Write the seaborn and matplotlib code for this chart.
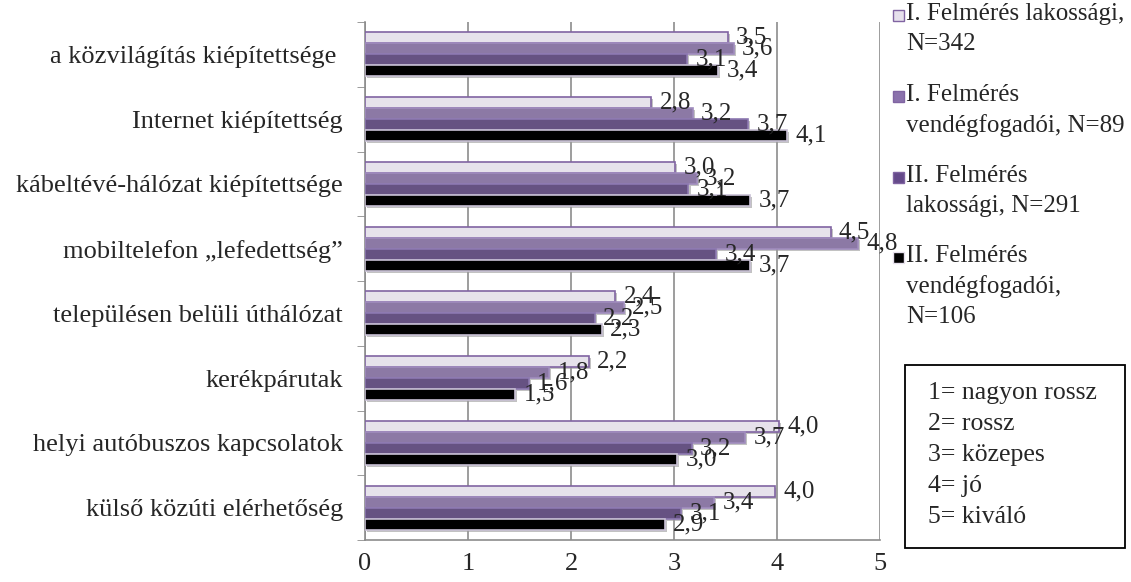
import pandas as pd
import seaborn as sns
import matplotlib.pyplot as plt
from matplotlib.patches import Rectangle
import matplotlib.patheffects as pe

# Data
szempontok = [
    "a közvilágítás kiépítettsége ",
    "Internet kiépítettség",
    "kábeltévé-hálózat kiépítettsége",
    "mobiltelefon „lefedettség”",
    "településen belüli úthálózat",
    "kerékpárutak",
    "helyi autóbuszos kapcsolatok",
    "külső közúti elérhetőség",
]
felmeres_1_lak = [3.52, 2.78, 3.01, 4.52, 2.43, 2.17, 4.02, 3.98]
felmeres_1_vend = [3.58, 3.18, 3.22, 4.79, 2.51, 1.79, 3.69, 3.39]
felmeres_2_lak = [3.13, 3.72, 3.14, 3.41, 2.23, 1.59, 3.17, 3.07]
felmeres_2_vend = [3.43, 4.10, 3.74, 3.74, 2.30, 1.46, 3.03, 2.91]

sorozatok = ["I. Felmérés lakossági, N=342", "I. Felmérés vendégfogadói, N=89",
             "II. Felmérés lakossági, N=291", "II. Felmérés vendégfogadói, N=106"]
legend_labels = ["I. Felmérés lakossági,\nN=342", "I. Felmérés\nvendégfogadói, N=89",
                 "II. Felmérés\nlakossági, N=291", "II. Felmérés\nvendégfogadói,\nN=106"]
skala = ["1= nagyon rossz", "2= rossz", "3= közepes", "4= jó", "5= kiváló"]

colors = ["#E6E0EC", "#8B72AC", "#654A8A", "#000000"]
edges = ["#8064A2", "#A08CBE", "#8C78B0", "#C8C0D4"]

# Long table for seaborn
rows = []
for name, vals in zip(sorozatok, [felmeres_1_lak, felmeres_1_vend, felmeres_2_lak, felmeres_2_vend]):
    for sz, v in zip(szempontok, vals):
        rows.append({"szempont": sz, "felmeres": name, "ertek": v})
df = pd.DataFrame(rows)

sns.set_style("white")
plt.rcParams['font.family'] = ['Liberation Serif', 'DejaVu Serif']

W, H = 1131, 582
fig = plt.figure(figsize=(W / 100, H / 100), dpi=100)
ax = fig.add_axes([365 / W, 1 - 540 / H, (880 - 365) / W, (540 - 22) / H])

sns.barplot(data=df, x="ertek", y="szempont", hue="felmeres", hue_order=sorozatok,
            order=szempontok, orient="h", palette=colors, width=0.68, gap=0,
            errorbar=None, legend=False, ax=ax, zorder=3)

shadow = [pe.SimplePatchShadow(offset=(1.5, -1.5), shadow_rgbFace="#9a9a9a", alpha=0.6), pe.Normal()]
for cont, ec in zip(ax.containers, edges):
    for bar in cont:
        bar.set_edgecolor(ec)
        bar.set_linewidth(1.2)
        bar.set_path_effects(shadow)
    labels = [f"{b.get_width():.1f}".replace(".", ",") for b in cont]
    ax.bar_label(cont, labels=labels, padding=6, fontsize=18)

ax.set_xlim(0, 5)
ax.set_ylim(len(szempontok) - 0.5, -0.5)
ax.set_xticks(range(6))
ax.set_yticks(range(len(szempontok)))
ax.set_yticks([i - 0.5 for i in range(len(szempontok) + 1)], minor=True)
ax.grid(axis="x", color="#8c8c8c", linewidth=1.2, zorder=0)
ax.set_axisbelow(True)
for s in ["top", "right"]:
    ax.spines[s].set_visible(False)
for s in ["left", "bottom"]:
    ax.spines[s].set_color("#8c8c8c")
    ax.spines[s].set_linewidth(1.2)
ax.tick_params(axis="x", length=6, color="#8c8c8c", labelsize=19, pad=3)
ax.tick_params(axis="y", which="major", length=0, labelsize=19, pad=16)
ax.tick_params(axis="y", which="minor", length=6, color="#8c8c8c", left=True)
ax.set_xlabel("")
ax.set_ylabel("")

# Series legend on the right
tops = [15, 96, 177, 257]
for lab, col, y in zip(legend_labels, colors, tops):
    fig.patches.append(Rectangle((893 / W, 1 - (y + 6) / H), 11 / W, 11 / H,
                                 transform=fig.transFigure, facecolor=col,
                                 edgecolor="#8064A2" if col != "#000000" else "#E6E0EC", lw=1))
    fig.text(906 / W, 1 - (y - 12) / H, lab, fontsize=18, va="top", ha="left", linespacing=1.45)

# Rating scale box
fig.patches.append(Rectangle((905 / W, 1 - 548 / H), 220 / W, 183 / H,
                             transform=fig.transFigure, facecolor="white",
                             edgecolor="black", lw=1.3))
for i, t in enumerate(skala):
    fig.text(928 / W, 1 - (393 + 31 * i) / H, t, fontsize=18.5, va="center", ha="left")

fig.savefig("out.png", dpi=100)
